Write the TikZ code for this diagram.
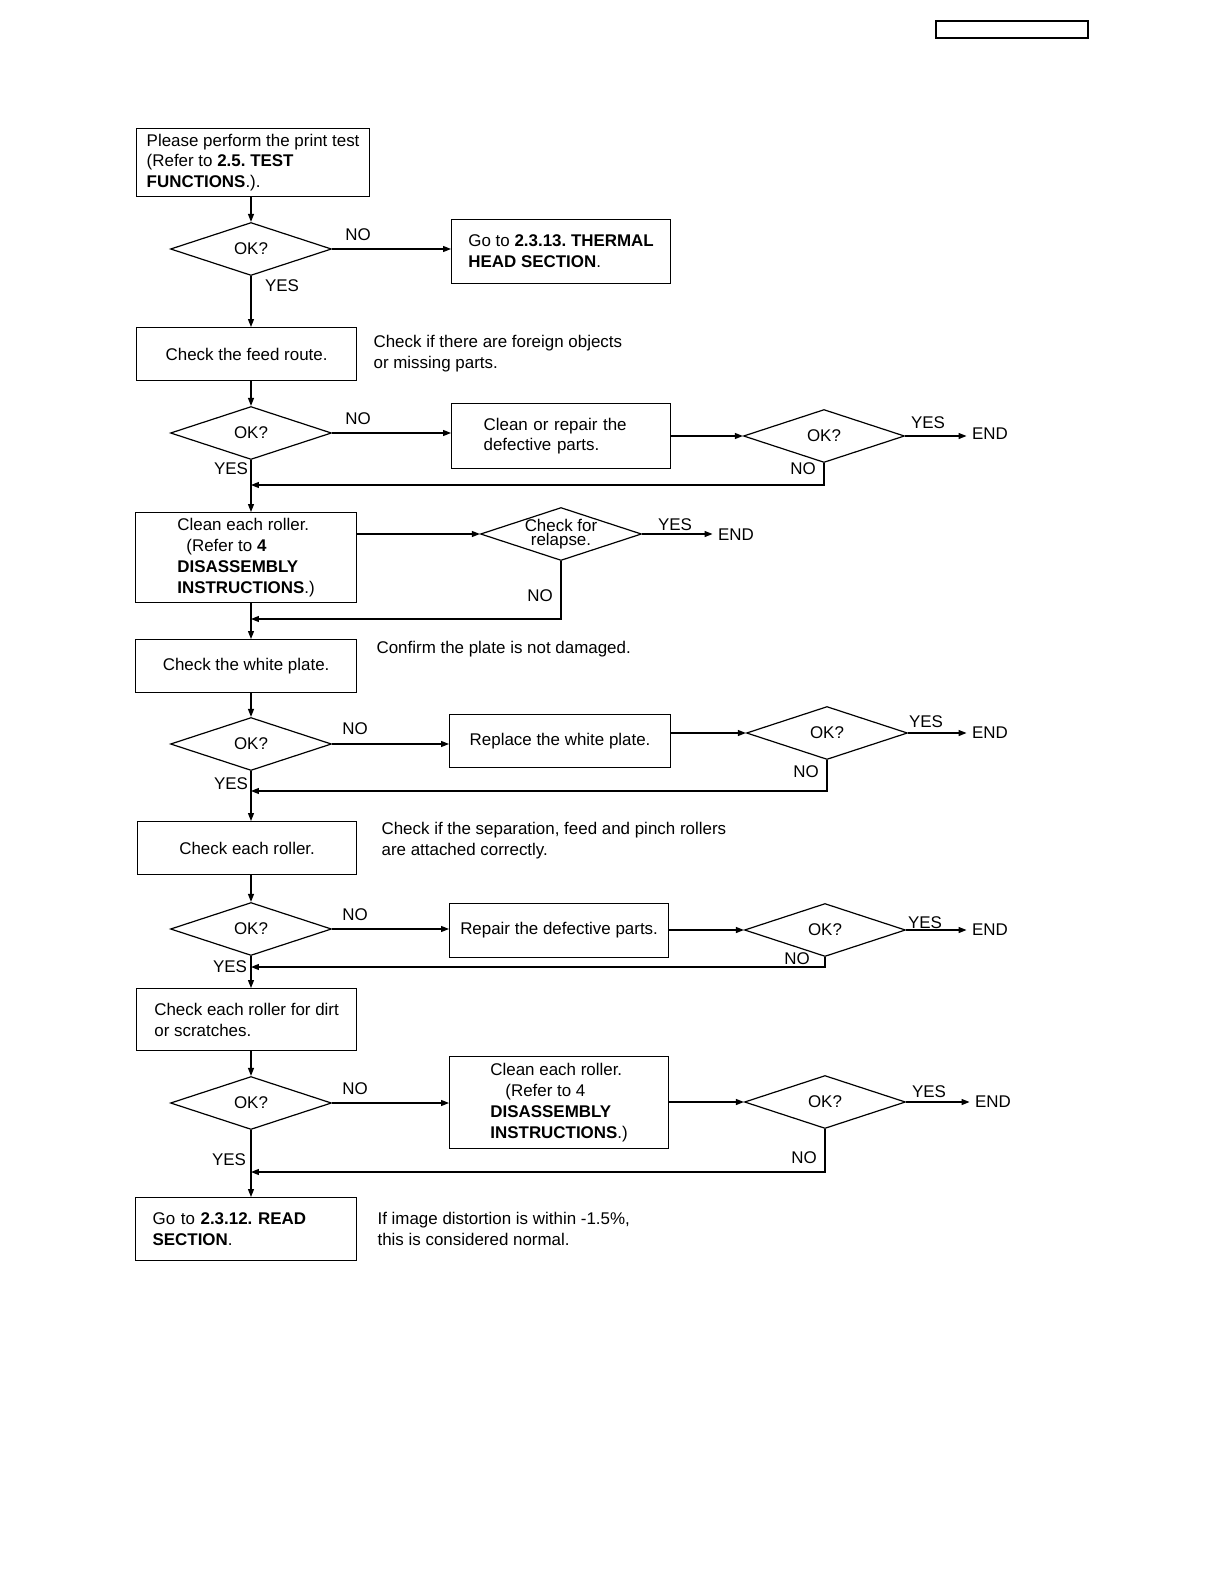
\documentclass[tikz,border=0pt]{standalone}
\usepackage{fontspec}
\setmainfont{Liberation Sans}
\usetikzlibrary{shapes.geometric,arrows.meta}
\frenchspacing

\begin{document}
\begin{tikzpicture}[x=0.5bp,y=-0.5bp,
    font=\fontsize{8.5}{10.5}\selectfont,
    line width=0.6pt,
    box/.style={draw, align=left, inner sep=0pt, anchor=north west},
    test/.style={draw, diamond, inner sep=0pt, minimum width=80.5bp, minimum height=26.5bp},
    arr/.style={-{Triangle[length=4pt,width=3pt]}},
    tag/.style={inner sep=0pt},
    note/.style={anchor=west, align=left, inner sep=0pt}]
    \useasboundingbox (0,0) rectangle (1224,1584);

    % Header box
    \draw[line width=0.8pt] (936,21) rectangle (1088,38);

    % Left column boxes
    \node[box, minimum width=116.5bp, minimum height=34bp] (b1) at (136,128)
        {Please perform the print test\\(Refer to \textbf{2.5. TEST}\\\textbf{FUNCTIONS}.).};
    \node[box, minimum width=110bp, minimum height=26.5bp] (b3) at (136,327)
        {Check the feed route.};
    \node[box, minimum width=110.5bp, minimum height=45bp] (b5) at (135,512)
        {Clean each roller.\\\hspace*{4.5bp}(Refer to \textbf{4}\\\textbf{DISASSEMBLY}\\\textbf{INSTRUCTIONS}.)};
    \node[box, minimum width=110.5bp, minimum height=26.5bp] (b6) at (135,639)
        {Check the white plate.};
    \node[box, minimum width=109.5bp, minimum height=26.5bp] (b8) at (137,821)
        {Check each roller.};
    \node[box, minimum width=110bp, minimum height=31bp] (b10) at (136,988)
        {Check each roller for dirt\\or scratches.};
    \node[box, minimum width=110.5bp, minimum height=31.5bp, text width=93.5bp] (b12) at (135,1197)
        {Go to \textbf{2.3.12. READ}\\\textbf{SECTION}.};

    % Right column boxes
    \node[box, minimum width=109.5bp, minimum height=32bp] (b2) at (451,219)
        {Go to \textbf{2.3.13. THERMAL}\\\textbf{HEAD SECTION}.};
    \node[box, minimum width=109.5bp, minimum height=32.5bp, text width=77.5bp] (b4) at (451,403)
        {Clean or repair the\\defective parts.};
    \node[box, minimum width=110.5bp, minimum height=26.5bp] (b7) at (449,714)
        {Replace the white plate.};
    \node[box, minimum width=109.5bp, minimum height=27bp] (b9) at (449,903)
        {Repair the defective parts.};
    \node[box, minimum width=109.5bp, minimum height=46bp] (b11) at (449,1056)
        {Clean each roller.\\\hspace*{7.5bp}(Refer to 4\\\textbf{DISASSEMBLY}\\\textbf{INSTRUCTIONS}.)};

    % Decisions
    \node[test] (d1) at (251,249) {OK?};
    \node[test] (d2) at (251,433) {OK?};
    \node[test] (d3) at (824,436) {OK?};
    \node[test, label={[align=center, inner sep=0pt, font=\fontsize{8.5}{7}\selectfont]center:Check for\\relapse.}] (d4) at (561,534) {};
    \node[test] (d5) at (251,744) {OK?};
    \node[test] (d6) at (827,733) {OK?};
    \node[test] (d7) at (251,929) {OK?};
    \node[test] (d8) at (825,930) {OK?};
    \node[test] (d9) at (251,1103) {OK?};
    \node[test] (d10) at (825,1102) {OK?};

    % END marks
    \node[tag] (e1) at (990,434) {END};
    \node[tag] (e2) at (736,535) {END};
    \node[tag] (e3) at (990,733) {END};
    \node[tag] (e4) at (990,930) {END};
    \node[tag] (e5) at (993,1102) {END};

    % Side notes
    \node[note] (n1) at (373,353.5) {Check if there are foreign objects\\or missing parts.};
    \node[note] (n2) at (376,649) {Confirm the plate is not damaged.};
    \node[note] (n3) at (381,840.5) {Check if the separation, feed and pinch rollers\\are attached correctly.};
    \node[note] (n4) at (377,1228.5) {If image distortion is within -1.5\%,\\this is considered normal.};

    % Return points on the main line
    \coordinate (m1) at (251,485);
    \coordinate (m2) at (251,619);
    \coordinate (m3) at (251,791);
    \coordinate (m4) at (251,967);
    \coordinate (m5) at (251,1172);

    % Main line down the left
    \foreach \a/\b in {b1/d1, d1/b3, b3/d2, d2/b5, b5/b6, b6/d5, d5/b8, b8/d7, d7/b10, b10/d9, d9/b12}
        \draw[arr] (\a.south -| d1.north) -- (\b.north -| d1.north);

    % NO branches
    \draw[arr] (d1.east) -- (d1.east -| b2.west);
    \draw[arr] (d2.east) -- (d2.east -| b4.west);
    \draw[arr] (d5.east) -- (d5.east -| b7.west);
    \draw[arr] (d7.east) -- (d7.east -| b9.west);
    \draw[arr] (d9.east) -- (d9.east -| b11.west);

    % Into the second checks
    \draw[arr] (d3.west -| b4.east) -- (d3.west);
    \draw[arr] (d4.west -| b5.east) -- (d4.west);
    \draw[arr] (d6.west -| b7.east) -- (d6.west);
    \draw[arr] (d8.west -| b9.east) -- (d8.west);
    \draw[arr] (d10.west -| b11.east) -- (d10.west);

    % YES to END
    \foreach \d/\e in {d3/e1, d4/e2, d6/e3, d8/e4, d10/e5}
        \draw[arr] (\d.east) -- ([xshift=-2.5pt]\d.east -| \e.west);

    % NO back to the main line
    \foreach \d/\m in {d3/m1, d4/m2, d6/m3, d8/m4, d10/m5}
        \draw[arr] (\d.south) |- (\m);

    % YES / NO labels
    \foreach \x/\y/\t in {358/235/NO, 282/286/YES, 358/419/NO, 231/469/YES, 928/423/YES, 803/469/NO,
                          675/525/YES, 540/596/NO, 355/729/NO, 231/784/YES, 926/722/YES, 806/772/NO,
                          355/915/NO, 230/967/YES, 925/923/YES, 797/959/NO,
                          355/1089/NO, 229/1160/YES, 929/1092/YES, 804/1158/NO}
        \node[tag] at (\x,\y) {\t};

\end{tikzpicture}
\end{document}
